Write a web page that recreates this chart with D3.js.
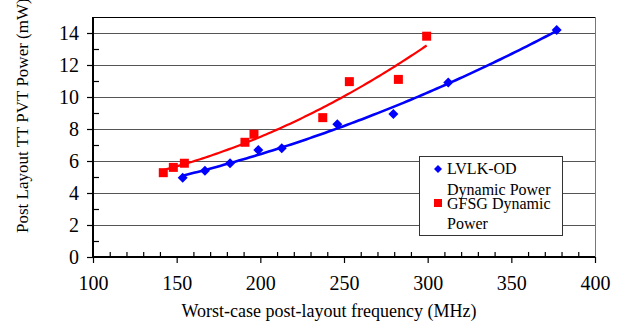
<!DOCTYPE html>
<html>
<head>
<meta charset="utf-8">
<script src="https://cdn.jsdelivr.net/npm/d3@7/dist/d3.min.js"></script>
<style>
  body { margin: 0; background: #fff; }
  svg { display: block; }
  text { font-family: "Liberation Serif", "Times New Roman", serif; fill: #000; }
</style>
</head>
<body>
<svg id="chart" width="622" height="325"></svg>
<script>
// Measured dynamic power vs. worst-case post-layout frequency
const lvlkFreq  = [153.6, 166.9, 181.9, 198.8, 212.8, 246.0, 279.5, 312.3, 377.1];
const lvlkPower = [4.96, 5.39, 5.86, 6.69, 6.79, 8.29, 8.94, 10.9, 14.19];
const gfsgFreq  = [142.0, 148.0, 154.6, 190.8, 196.2, 237.3, 253.2, 282.5, 299.4];
const gfsgPower = [5.27, 5.60, 5.86, 7.17, 7.67, 8.71, 10.96, 11.10, 13.80];

const xTicks = [100, 150, 200, 250, 300, 350, 400];
const yTicks = [0, 2, 4, 6, 8, 10, 12, 14];
const xMinorTicks = d3.range(110, 400, 10).filter(v => v % 50 !== 0);
const yMinorTicks = [1, 3, 5, 7, 9, 11, 13];

const xTitle = "Worst-case post-layout frequency (MHz)";
const yTitle = "Post Layout TT PVT Power (mW)";
const legendLVLK = ["LVLK-OD", "Dynamic Power"];
const legendGFSG = ["GFSG Dynamic", "Power"];

const blue = "#0000ff", red = "#ff0000";

const svg = d3.select("#chart");
const plotLeft = 93, plotRight = 595, plotTop = 17, plotBottom = 257;

const x = d3.scaleLinear().domain([100, 400]).range([plotLeft, plotRight]);
const y = d3.scaleLinear().domain([0, 15]).range([plotBottom, plotTop]);

// Second-order polynomial least-squares trendline
function polyFit2(xs, ys) {
  const n = xs.length;
  const mx = d3.mean(xs);
  let s2 = 0, s3 = 0, s4 = 0, sy = 0, sty = 0, st2y = 0;
  xs.forEach((xv, i) => {
    const t = xv - mx, yv = ys[i];
    s2 += t * t; s3 += t * t * t; s4 += t * t * t * t;
    sy += yv; sty += t * yv; st2y += t * t * yv;
  });
  // normal equations with centred t (sum t = 0)
  const M = [[n, 0, s2], [0, s2, s3], [s2, s3, s4]];
  const v = [sy, sty, st2y];
  for (let i = 0; i < 3; i++) {
    for (let k = i + 1; k < 3; k++) {
      const f = M[k][i] / M[i][i];
      for (let j = i; j < 3; j++) M[k][j] -= f * M[i][j];
      v[k] -= f * v[i];
    }
  }
  const c = v[2] / M[2][2];
  const b = (v[1] - M[1][2] * c) / M[1][1];
  const a = (v[0] - M[0][1] * b - M[0][2] * c) / M[0][0];
  return xv => { const t = xv - mx; return a + b * t + c * t * t; };
}

// Gridlines
svg.append("g")
  .selectAll("line")
  .data(yTicks.filter(d => d > 0))
  .join("line")
  .attr("x1", plotLeft).attr("x2", plotRight)
  .attr("y1", d => Math.round(y(d)) + 0.5).attr("y2", d => Math.round(y(d)) + 0.5)
  .attr("stroke", "#555").attr("stroke-width", 1);

// Plot frame (top and right)
svg.append("line").attr("x1", plotLeft).attr("x2", plotRight)
  .attr("y1", y(15) + 0.5).attr("y2", y(15) + 0.5)
  .attr("stroke", "#000").attr("stroke-width", 1);
svg.append("line").attr("x1", plotRight + 0.5).attr("x2", plotRight + 0.5)
  .attr("y1", y(15)).attr("y2", plotBottom)
  .attr("stroke", "#777").attr("stroke-width", 1);

// Trendlines
function trend(xs, ys, color, width) {
  const f = polyFit2(xs, ys);
  const x0 = d3.min(xs), x1 = d3.max(xs);
  const pts = d3.range(0, 101).map(i => {
    const xv = x0 + (x1 - x0) * i / 100;
    return [xv, f(xv)];
  });
  svg.append("path")
    .datum(pts)
    .attr("fill", "none")
    .attr("stroke", color)
    .attr("stroke-width", width)
    .attr("d", d3.line().x(d => x(d[0])).y(d => y(d[1])));
}
trend(gfsgFreq, gfsgPower, red, 2.2);
trend(lvlkFreq, lvlkPower, blue, 2.6);

// Markers
const diamond = s => `M0,${-s}L${s},0L0,${s}L${-s},0Z`;
svg.append("g")
  .selectAll("path")
  .data(lvlkFreq.map((f, i) => [f, lvlkPower[i]]))
  .join("path")
  .attr("transform", d => `translate(${x(d[0])},${y(d[1])})`)
  .attr("d", diamond(5))
  .attr("fill", blue);

const sq = 9;
svg.append("g")
  .selectAll("rect")
  .data(gfsgFreq.map((f, i) => [f, gfsgPower[i]]))
  .join("rect")
  .attr("x", d => x(d[0]) - sq / 2)
  .attr("y", d => y(d[1]) - sq / 2)
  .attr("width", sq).attr("height", sq)
  .attr("fill", red);

// Axes
const font = "'Liberation Serif', 'Times New Roman', serif";

const xAxis = svg.append("g")
  .attr("transform", `translate(0,${plotBottom})`)
  .call(d3.axisBottom(x).tickValues(xTicks).tickSize(6).tickFormat(d3.format("d")));
xAxis.select(".domain").remove();
xAxis.selectAll(".tick line").attr("stroke", "#000").attr("stroke-width", 1.2);
xAxis.selectAll("text")
  .attr("y", 33).attr("dy", null)
  .attr("font-family", font).attr("font-size", 20).attr("fill", "#000");

const xMinor = svg.append("g")
  .attr("transform", `translate(0,${plotBottom})`)
  .call(d3.axisBottom(x).tickValues(xMinorTicks).tickSize(-5).tickFormat(""));
xMinor.select(".domain").remove();
xMinor.selectAll(".tick line").attr("stroke", "#000").attr("stroke-width", 1.2);

const yAxis = svg.append("g")
  .attr("transform", `translate(${plotLeft},0)`)
  .call(d3.axisLeft(y).tickValues(yTicks).tickSize(6).tickFormat(d3.format("d")));
yAxis.select(".domain").remove();
yAxis.selectAll(".tick line").attr("stroke", "#000").attr("stroke-width", 1.2);
yAxis.selectAll("text")
  .attr("x", -14).attr("dy", "0.3em")
  .attr("font-family", font).attr("font-size", 20).attr("fill", "#000");

const yMinor = svg.append("g")
  .attr("transform", `translate(${plotLeft},0)`)
  .call(d3.axisLeft(y).tickValues(yMinorTicks).tickSize(-6).tickFormat(""));
yMinor.select(".domain").remove();
yMinor.selectAll(".tick line").attr("stroke", "#000").attr("stroke-width", 1.2);

// Axis lines
svg.append("line").attr("x1", plotLeft).attr("x2", plotLeft)
  .attr("y1", y(15)).attr("y2", plotBottom + 1)
  .attr("stroke", "#000").attr("stroke-width", 2);
svg.append("line").attr("x1", plotLeft - 1).attr("x2", plotRight)
  .attr("y1", plotBottom).attr("y2", plotBottom)
  .attr("stroke", "#000").attr("stroke-width", 2);

// Axis titles
svg.append("text")
  .attr("x", 329).attr("y", 317)
  .attr("text-anchor", "middle")
  .attr("font-size", 18)
  .text(xTitle);

svg.append("text")
  .attr("transform", "translate(28,233) rotate(-90)")
  .attr("text-anchor", "start")
  .attr("font-size", 17)
  .text(yTitle);

// Legend
const lg = svg.append("g");
lg.append("rect")
  .attr("x", 419.5).attr("y", 156.5).attr("width", 143).attr("height", 79)
  .attr("fill", "#fff").attr("stroke", "#333").attr("stroke-width", 1);
lg.append("path")
  .attr("transform", "translate(438,169)")
  .attr("d", diamond(4)).attr("fill", blue);
lg.append("rect")
  .attr("x", 434).attr("y", 199).attr("width", 8).attr("height", 8)
  .attr("fill", red);
const legendLines = [
  [legendLVLK[0], 174], [legendLVLK[1], 195],
  [legendGFSG[0], 209], [legendGFSG[1], 229]
];
lg.selectAll("text.lbl")
  .data(legendLines)
  .join("text")
  .attr("class", "lbl")
  .attr("x", 447).attr("y", d => d[1])
  .attr("font-size", 16)
  .text(d => d[0]);
</script>
</body>
</html>
